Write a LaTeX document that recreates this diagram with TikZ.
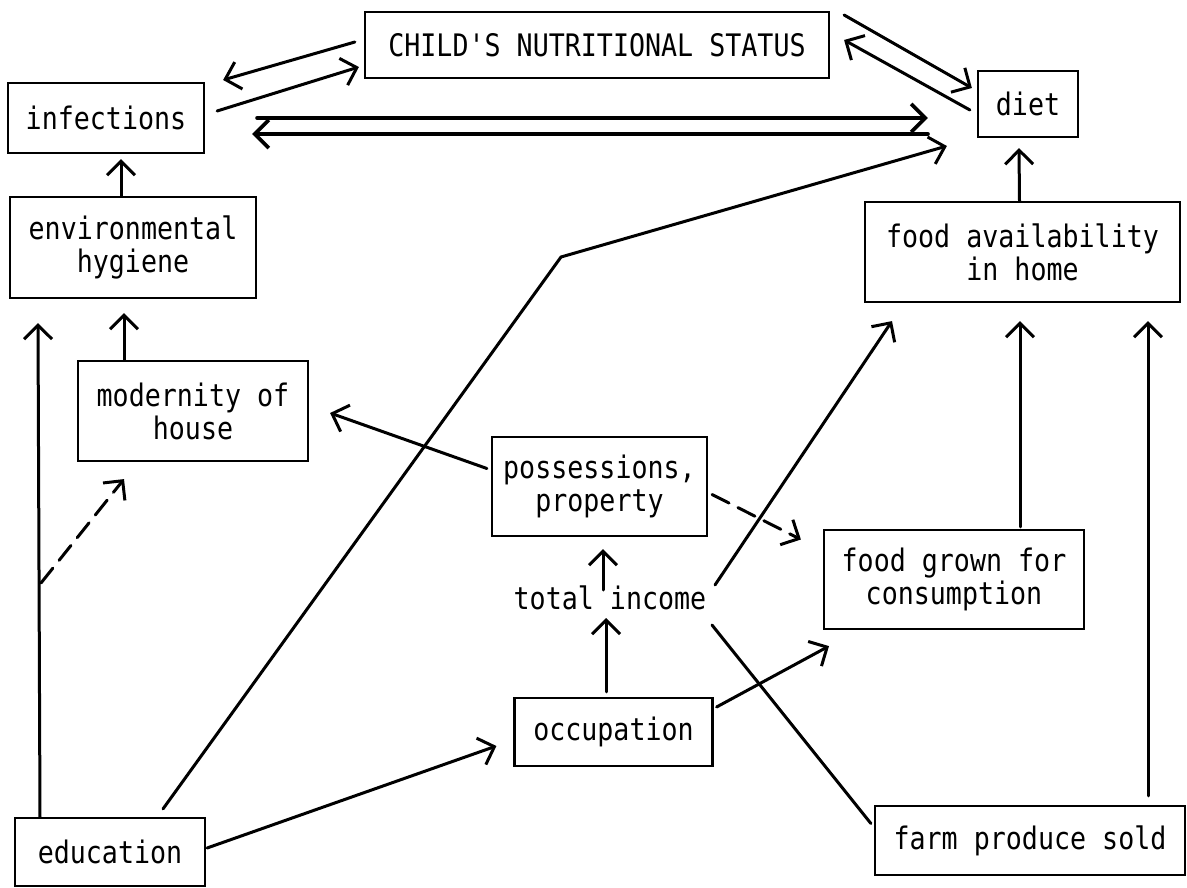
\documentclass[tikz,border=0pt]{standalone}
\usepackage{fontspec}
\setmonofont[FakeStretch=0.86]{DejaVu Sans Mono}
\usetikzlibrary{arrows.meta,calc}
\begin{document}
\begin{tikzpicture}[x=1pt,y=-1pt,
  box/.style={draw,line width=2.2pt,inner sep=0pt,align=center,font=\ttfamily\fontsize{31}{33}\selectfont},
  lbl/.style={inner sep=0pt,font=\ttfamily\fontsize{31}{33}\selectfont},
  arr/.style={line width=3pt,line cap=round,-{Straight Barb[length=14pt,width=28pt]}},
  thk/.style={arr,line width=3.8pt},
  ln/.style={line width=3pt,line cap=round},
  dsh/.style={arr,dash pattern=on 19pt off 10pt}]
\useasboundingbox (0,0) rectangle (1187,888);
\fill[white] (0,0) rectangle (1187,888);
% nodes
\node[box,minimum width=464pt,minimum height=66pt] (cns) at (597,45) {CHILD'S NUTRITIONAL STATUS};
\node[box,minimum width=196pt,minimum height=70pt] (inf) at (106,118) {infections};
\node[box,minimum width=100pt,minimum height=66pt] (diet) at (1028,104) {diet};
\node[box,minimum width=246pt,minimum height=101pt] (env) at (133,247.5) {environmental\\hygiene};
\node[box,minimum width=315pt,minimum height=100pt] (food) at (1022.5,252) {food availability\\in home};
\node[box,minimum width=230pt,minimum height=100pt] (mod) at (193,411) {modernity of\\house};
\node[box,minimum width=215pt,minimum height=99pt] (poss) at (599.5,486.5) {possessions,\\property};
\node[lbl] (inc) at (610,598) {total income};
\node[box,minimum width=260pt,minimum height=99pt] (grown) at (954,579.5) {food grown for\\consumption};
\node[box,minimum width=198pt,minimum height=68pt] (occ) at (613.5,732) {occupation};
\node[box,minimum width=190pt,minimum height=68pt] (edu) at (110,852) {education};
\node[box,minimum width=310pt,minimum height=69pt] (farm) at (1030,840.5) {farm produce sold};
\coordinate (k1) at (561,257);
\coordinate (d0) at (41,583);
% connectors
\draw[arr] ($(cns.west)+(-9,-3)$) -- ($(inf.east)+(18,-38)$);
\draw[arr] ($(inf.east)+(12,-7)$) -- ($(cns.west)+(-5,22)$);
\draw[arr] ($(cns.east)+(14,-30)$) -- ($(diet.west)+(-5,-16)$);
\draw[arr] ($(diet.west)+(-7,6)$) -- ($(cns.east)+(14,-5)$);
\draw[thk] ($(inf.east)+(52,0)$) -- ($(diet.west)+(-49,14)$);
\draw[thk] ($(diet.west)+(-49,30)$) -- ($(inf.east)+(47,16)$);
\draw[arr] ($(edu.north)+(53,-8)$) -- (k1) -- ($(diet.west)+(-30,42)$);
\draw[arr] ($(env.north)+(-12,0)$) -- ($(inf.south)+(15,5)$);
\draw[arr] ($(food.north)+(-3,0)$) -- ($(diet.south)+(-9,10)$);
\draw[arr] ($(edu.north)+(-70,0)$) -- ($(env.south)+(-95,24)$);
\draw[arr] ($(mod.north)+(-69,0)$) -- ($(env.south)+(-9,14)$);
\draw[dsh] (d0) -- ($(mod.south)+(-69,17)$);
\draw[arr] ($(poss.west)+(-4,-18)$) -- ($(mod.east)+(21,2)$);
\draw[dsh] ($(poss.east)+(4,8)$) -- ($(grown.west)+(-22,-40)$);
\draw[arr] ($(inc.center)+(-7,-8)$) -- ($(poss.south)+(3.5,12)$);
\draw[arr] ($(occ.north)+(-7.5,-5)$) -- ($(inc.center)+(-4,20)$);
\draw[arr] ($(inc.center)+(105,-13)$) -- ($(food.south)+(-130.5,18)$);
\draw[ln] ($(inc.center)+(102,27)$) -- ($(farm.west)+(-3,-17)$);
\draw[arr] ($(occ.east)+(3,-25)$) -- ($(grown.south)+(-125,16)$);
\draw[arr] ($(edu.east)+(1,-4)$) -- ($(occ.west)+(-17,14)$);
\draw[arr] ($(grown.north)+(66,-2)$) -- ($(food.south)+(-2.5,18)$);
\draw[arr] ($(farm.north)+(118,-9)$) -- ($(food.south)+(125.5,18)$);
\end{tikzpicture}
\end{document}
